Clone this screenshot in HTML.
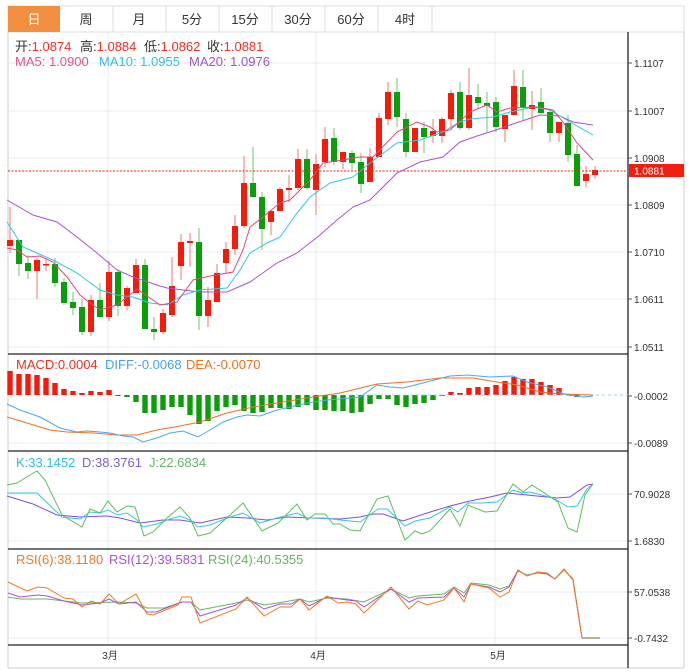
<!DOCTYPE html>
<html><head><meta charset="utf-8">
<style>
html,body{margin:0;padding:0;background:#fff;width:690px;height:672px;overflow:hidden}
svg{display:block;font-family:"Liberation Sans","Noto Sans CJK SC",sans-serif}
</style></head><body>
<svg id="s" width="690" height="672" viewBox="0 0 690 672" xmlns="http://www.w3.org/2000/svg">
<rect width="690" height="672" fill="#fff"/>
<!-- tabs -->
<rect x="8" y="6" width="676" height="26" fill="#fff" stroke="#dcdcdc"/>
<rect x="8" y="6" width="52" height="26" fill="#f39040"/>
<g stroke="#dcdcdc"><line x1="113" y1="6" x2="113" y2="32"/><line x1="166" y1="6" x2="166" y2="32"/><line x1="219" y1="6" x2="219" y2="32"/><line x1="272" y1="6" x2="272" y2="32"/><line x1="325" y1="6" x2="325" y2="32"/><line x1="378" y1="6" x2="378" y2="32"/><line x1="432" y1="6" x2="432" y2="32"/></g>
<g font-size="13" text-anchor="middle" fill="#333">
<text x="34" y="24" fill="#fff">日</text><text x="86" y="24">周</text><text x="139" y="24">月</text><text x="192" y="24">5分</text><text x="245" y="24">15分</text><text x="298" y="24">30分</text><text x="351" y="24">60分</text><text x="405" y="24">4时</text>
</g>
<!-- frame -->
<line x1="8" y1="32" x2="8" y2="668" stroke="#ccc"/>
<line x1="684" y1="32" x2="684" y2="668" stroke="#ccc"/>
<line x1="8" y1="668" x2="684" y2="668" stroke="#ccc"/>
<!-- grid -->
<g stroke="#e6ecf1" stroke-width="1">
<line x1="8" y1="63" x2="628" y2="63"/><line x1="8" y1="111" x2="628" y2="111"/><line x1="8" y1="158" x2="628" y2="158"/><line x1="8" y1="205" x2="628" y2="205"/><line x1="8" y1="252" x2="628" y2="252"/><line x1="8" y1="299" x2="628" y2="299"/><line x1="8" y1="347" x2="628" y2="347"/>
<line x1="8" y1="443" x2="628" y2="443"/>
<line x1="8" y1="494" x2="628" y2="494"/><line x1="8" y1="541" x2="628" y2="541"/>
<line x1="8" y1="592" x2="628" y2="592"/><line x1="8" y1="638" x2="628" y2="638"/>
<line x1="108" y1="32" x2="108" y2="645"/><line x1="316" y1="32" x2="316" y2="645"/><line x1="495" y1="32" x2="495" y2="645"/>
</g>
<!-- panel separators -->
<g stroke="#222" stroke-width="1.3">
<line x1="8" y1="354" x2="628" y2="354"/><line x1="8" y1="451" x2="628" y2="451"/><line x1="8" y1="549" x2="628" y2="549"/><line x1="8" y1="645" x2="628" y2="645"/>
<line x1="628" y1="32" x2="628" y2="668"/>
</g>
<g stroke="#555">
<line x1="628" y1="63" x2="632" y2="63"/><line x1="628" y1="111" x2="632" y2="111"/><line x1="628" y1="158" x2="632" y2="158"/><line x1="628" y1="205" x2="632" y2="205"/><line x1="628" y1="252" x2="632" y2="252"/><line x1="628" y1="299" x2="632" y2="299"/><line x1="628" y1="347" x2="632" y2="347"/>
<line x1="628" y1="396" x2="632" y2="396"/><line x1="628" y1="443" x2="632" y2="443"/><line x1="628" y1="494" x2="632" y2="494"/><line x1="628" y1="541" x2="632" y2="541"/><line x1="628" y1="592" x2="632" y2="592"/><line x1="628" y1="638" x2="632" y2="638"/>
</g>
<g font-size="10" fill="#333">
<text x="634" y="67">1.1107</text><text x="634" y="115">1.1007</text><text x="634" y="162">1.0908</text><text x="634" y="209">1.0809</text><text x="634" y="256">1.0710</text><text x="634" y="303">1.0611</text><text x="634" y="351">1.0511</text>
<text x="634" y="400">-0.0002</text><text x="634" y="447">-0.0089</text>
<text x="634" y="498">70.9028</text><text x="634" y="545">1.6830</text>
<text x="634" y="596">57.0538</text><text x="634" y="642">-0.7432</text>
<text x="110" y="659" text-anchor="middle">3月</text><text x="318" y="659" text-anchor="middle">4月</text><text x="498" y="659" text-anchor="middle">5月</text>
</g>
<!-- legends -->
<g font-size="13">
<text x="15" y="51" fill="#333">开:<tspan fill="#f03020">1.0874</tspan></text>
<text x="80" y="51" fill="#333">高:<tspan fill="#f03020">1.0884</tspan></text>
<text x="144" y="51" fill="#333">低:<tspan fill="#f03020">1.0862</tspan></text>
<text x="207" y="51" fill="#333">收:<tspan fill="#f03020">1.0881</tspan></text>
<text x="15" y="66" fill="#e8508a">MA5: 1.0900</text>
<text x="99" y="66" fill="#30c0e0">MA10: 1.0955</text>
<text x="189" y="66" fill="#a050d0">MA20: 1.0976</text>
<text x="16" y="369" fill="#f03020">MACD:0.0004</text>
<text x="105" y="369" fill="#4aa0f0">DIFF:-0.0068</text>
<text x="186" y="369" fill="#f07020">DEA:-0.0070</text>
<text x="16" y="467" fill="#30c0e0">K:33.1452</text>
<text x="82" y="467" fill="#8060d0">D:38.3761</text>
<text x="149" y="467" fill="#60b860">J:22.6834</text>
<text x="16" y="564" fill="#f07a20">RSI(6):38.1180</text>
<text x="109" y="564" fill="#b050d0">RSI(12):39.5831</text>
<text x="208" y="564" fill="#60b860">RSI(24):40.5355</text>
</g>
<g id="dyn"></g>
<!-- MA lines -->
<g fill="none" stroke-width="1">
<polyline stroke="#b050d0" points="7,200 33,215 57,222 77,237 97,253 117,270 133,277 160,286 167,288 200,292 227,292 250,282 277,263 297,253 320,235 337,220 353,207 370,200 397,173 420,162 443,157 460,142 477,136 493,131 510,125 540,115 560,116 573,122 593,125"/>
<polyline stroke="#30c8e0" points="7,222 23,247 37,253 53,260 77,273 100,290 117,295 133,297 150,303 167,305 183,295 200,290 227,288 240,270 250,253 267,243 280,237 297,213 310,197 330,183 353,177 370,163 397,143 420,140 443,132 460,122 470,119 493,117 510,112 533,107 550,110 570,122 593,135"/>
<polyline stroke="#e8457a" points="7,248 17,250 27,257 40,256 53,262 67,277 80,295 90,303 100,310 117,305 137,289 150,298 160,305 177,302 193,280 210,276 233,272 243,250 250,227 263,217 280,203 290,200 303,187 310,180 323,163 343,160 360,157 373,157 397,132 417,122 430,127 437,132 450,130 470,112 487,105 497,112 510,108 537,107 553,110 563,122 577,143 593,160"/>
</g>
<!-- current price -->
<line x1="8" y1="171" x2="628" y2="171" stroke="#f02010" stroke-dasharray="2,1.5"/>
<rect x="629" y="164" width="55" height="13" fill="#f02010"/>
<text x="634" y="174.5" font-size="10" fill="#fff">1.0881</text>
<!-- MACD lines -->
<line x1="350" y1="395" x2="628" y2="395" stroke="#9fd0e8" stroke-dasharray="3,3"/>
<g fill="none" stroke-width="1">
<polyline stroke="#f07020" points="7,417 27,423 50,430 67,432 93,433 117,435 137,435 157,430 180,426 200,422 227,413 253,407 283,402 313,397 340,393 377,384 407,382 440,378 473,378 497,382 517,385 540,392 560,394 593,395"/>
<polyline stroke="#4aa8f0" points="7,404 20,410 40,417 60,428 77,432 87,431 100,432 110,433 123,436 133,437 143,442 157,438 170,433 183,431 198,437 210,430 223,422 237,417 247,415 260,416 277,410 290,407 307,403 327,400 340,399 360,397 377,385 390,387 403,388 423,383 450,376 467,375 490,377 513,376 527,382 547,387 567,395 583,397 593,396"/>
</g>
<!-- KDJ -->
<g fill="none" stroke-width="1">
<polyline stroke="#8050d8" points="7,496 33,504 57,515 80,517 107,516 120,518 140,523 163,520 180,520 200,523 227,517 247,518 267,520 287,517 310,518 340,519 360,517 373,514 383,514 403,521 427,513 450,506 470,501 490,497 507,493 527,495 557,498 570,497 587,485 593,484"/>
<polyline stroke="#30c8e8" points="7,493 37,493 62,517 80,519 90,512 100,513 108,510 117,515 127,513 137,520 143,527 157,524 167,520 180,516 190,520 198,527 210,525 230,517 243,513 260,523 277,518 297,513 307,518 323,518 340,520 360,522 378,509 387,509 405,526 415,521 430,518 450,507 458,512 468,503 483,503 497,502 513,490 522,493 530,492 553,498 568,507 577,506 587,489 593,484"/>
<polyline stroke="#5cbf5c" points="7,485 17,483 25,478 37,471 45,480 62,515 82,527 90,509 100,513 108,501 117,512 127,506 135,507 144,536 153,532 167,518 180,507 190,518 198,536 210,533 230,515 243,503 262,531 278,523 297,504 307,520 315,514 325,514 333,524 340,524 350,530 360,531 377,499 388,496 405,540 415,531 422,534 430,531 450,509 460,526 468,505 485,512 497,511 513,484 523,492 532,485 558,502 568,528 577,532 585,495 593,484"/>
</g>
<!-- RSI -->
<g fill="none" stroke-width="1">
<polyline stroke="#60b860" points="8,597 20,599 47,599 82,603 119,602 136,603 147,608 164,608 182,602 191,602 200,610 236,603 247,600 264,605 284,602 300,599 309,602 327,598 347,599 364,602 391,589 409,598 418,596 444,594 454,587 464,593 471,583 489,585 500,589 509,586 518,571 527,575 538,573 547,574 555,579 564,570 573,579 582,638"/>
<polyline stroke="#b050d0" points="8,593 20,597 38,595 47,596 64,601 82,605 100,603 109,599 119,604 136,602 147,612 156,612 182,602 191,602 200,616 236,605 247,598 264,609 280,604 291,604 300,599 309,606 327,597 347,600 356,601 364,607 391,589 409,602 418,598 444,597 454,588 464,597 471,584 489,587 500,592 509,587 518,570 527,576 538,572 547,574 555,579 564,569 573,580 582,638"/>
<polyline stroke="#f07a20" points="8,582 27,591 38,587 47,588 64,598 73,599 82,607 91,601 100,604 109,594 119,604 136,594 147,614 153,615 178,605 182,597 191,597 200,623 236,609 247,597 264,616 280,607 291,607 300,599 309,610 327,596 338,603 347,602 356,604 364,613 391,587 409,609 418,601 427,605 444,600 454,588 464,602 471,584 489,588 500,597 509,592 518,570 527,576 538,572 547,573 555,579 564,569 573,580 582,638"/>
<line x1="582" y1="638" x2="600" y2="638" stroke="#b8b098" stroke-width="2"/>
</g>
</svg>
<script>
(function(){
var C=[["R",240,246,207,253],["G",240,264,240,276],["G",263,271,255,279],["R",260,271,258,299],["R",264,265,258,271],["G",264,283,258,287],["G",282,303,278,305],["G",302,308,292,315],["G",307,332,299,335],["R",300,332,295,336],["G",300,317,283,317],["R",272,317,261,321],["G",272,306,269,316],["R",288,306,286,310],["R",265,293,259,293],["G",265,329,259,329],["G",329,332,317,340],["R",313,332,309,334],["R",286,315,257,317],["R",242,266,234,280],["R",241,243,233,267],["G",242,316,228,330],["R",300,316,287,327],["R",273,302,264,302],["R",249,263,242,273],["R",226,249,215,255],["R",183,226,156,228],["G",183,197,147,197],["G",197,229,192,250],["R",211,222,211,235],["R",189,211,187,211],["R",188,190,175,202],["R",159,188,149,190],["G",159,188,149,190],["R",164,190,154,215],["R",139,162,127,167],["G",138,162,128,165],["R",152,162,152,169],["G",153,163,150,170],["G",162,184,153,193],["R",157,182,148,182],["R",118,157,113,157],["R",92,119,82,125],["G",92,117,78,127],["G",119,152,113,157],["R",128,152,128,152],["G",128,137,122,153],["R",131,136,119,143],["R",119,136,117,143],["R",93,119,90,130],["G",92,128,82,130],["R",95,128,68,130],["G",97,103,84,109],["G",103,106,92,132],["G",102,127,97,132],["R",115,129,115,142],["R",86,115,70,115],["G",87,107,70,120],["R",105,109,91,130],["G",102,113,88,113],["G",112,133,110,142],["R",122,133,122,142],["G",123,155,115,162],["G",154,186,145,186],["R",174,181,166,187],["R",170,175,166,179]];
var M=[371,374,374,375,378,383,389,391,393,391,392,390,396,397,402,413,413,410,407,407,415,424,421,411,407,405,411,413,412,408,408,409,407,405,410,410,411,411,413,412,404,399,399,405,407,404,403,400,396,392,393,388,387,387,385,381,377,379,379,382,385,388,394,397,395,395];
var ns="http://www.w3.org/2000/svg",g=document.getElementById("dyn");
function el(t,a){var e=document.createElementNS(ns,t);for(var k in a)e.setAttribute(k,a[k]);g.appendChild(e);}
for(var i=0;i<C.length;i++){var x=10+9*i,c=C[i],col=c[0]=="R"?"#f51a0a":"#0a9e0a",wc=c[0]=="R"?"#f27a70":"#6cc86c";
el("line",{x1:x,y1:c[3],x2:x,y2:c[4],stroke:wc,"stroke-width":1});
el("rect",{x:x-3,y:c[1],width:6,height:Math.max(1.5,c[2]-c[1]),fill:col});
var y=M[i],top=Math.min(y,395),h=Math.abs(y-395);
if(h>0.5)el("rect",{x:x-2.7,y:top,width:5.4,height:h,fill:y<395?"#f51a0a":"#0a9e0a"});}
})();
</script>
</body></html>
